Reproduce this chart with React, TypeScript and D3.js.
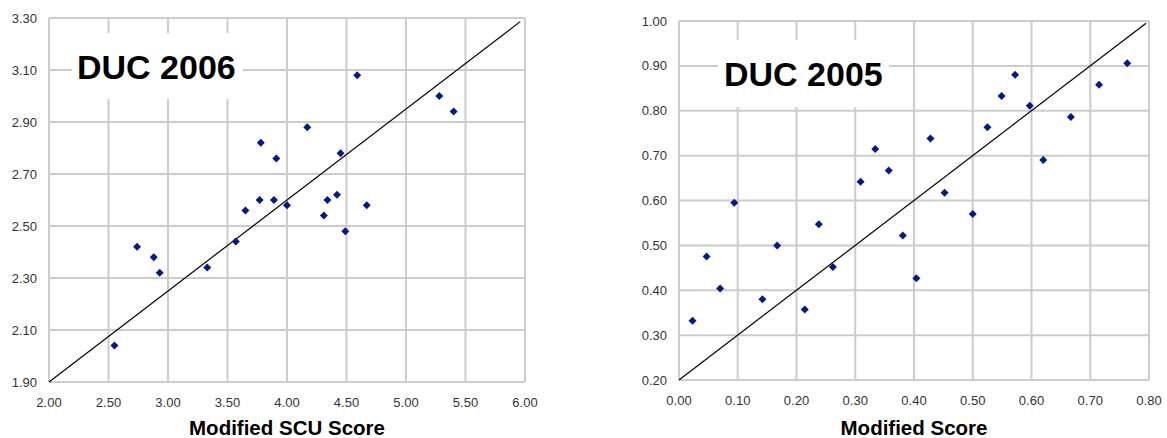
import React from 'react';
import * as d3 from 'd3';

// DUC 2006 — Modified SCU Score vs. score
const duc2006X = [2.55, 2.74, 2.88, 2.93, 3.33, 3.57, 3.65, 3.77, 3.89, 4.00, 3.78, 3.91, 4.17, 4.45, 4.59, 5.28, 5.40, 4.42, 4.34, 4.31, 4.49, 4.67];
const duc2006Y = [2.04, 2.42, 2.38, 2.32, 2.34, 2.44, 2.56, 2.60, 2.60, 2.58, 2.82, 2.76, 2.88, 2.78, 3.08, 3.00, 2.94, 2.62, 2.60, 2.54, 2.48, 2.58];
const duc2006Fit = [[2.0, 1.9], [5.96, 3.286]];
const duc2006XTicks = [2.0, 2.5, 3.0, 3.5, 4.0, 4.5, 5.0, 5.5, 6.0];
const duc2006YTicks = [1.9, 2.1, 2.3, 2.5, 2.7, 2.9, 3.1, 3.3];

// DUC 2005 — Modified Score vs. score
const duc2005X = [0.023, 0.047, 0.070, 0.094, 0.142, 0.167, 0.214, 0.238, 0.262, 0.309, 0.334, 0.357, 0.381, 0.404, 0.500, 0.428, 0.452, 0.525, 0.549, 0.572, 0.597, 0.620, 0.667, 0.715, 0.763];
const duc2005Y = [0.332, 0.475, 0.404, 0.595, 0.380, 0.500, 0.357, 0.547, 0.452, 0.642, 0.715, 0.667, 0.522, 0.427, 0.570, 0.738, 0.617, 0.763, 0.833, 0.880, 0.811, 0.690, 0.786, 0.858, 0.906];
const duc2005Fit = [[0.0, 0.2], [0.795, 0.995]];
const duc2005XTicks = [0, 0.1, 0.2, 0.3, 0.4, 0.5, 0.6, 0.7, 0.8];
const duc2005YTicks = [0.2, 0.3, 0.4, 0.5, 0.6, 0.7, 0.8, 0.9, 1.0];

const GRID = '#cccccc';
const MARKER = '#001a8c';
const FONT = '"Liberation Sans", Arial, sans-serif';

type ChartProps = {
  xs: number[];
  ys: number[];
  fit: number[][];
  xTicks: number[];
  yTicks: number[];
  box: { left: number; top: number; right: number; bottom: number };
  title: string;
  titleBox: { x: number; y: number; w: number; h: number };
  titlePos: { x: number; y: number };
  xLabel: string;
};

function Scatter({ xs, ys, fit, xTicks, yTicks, box, title, titleBox, titlePos, xLabel }: ChartProps) {
  const x = d3.scaleLinear().domain([xTicks[0], xTicks[xTicks.length - 1]]).range([box.left, box.right]);
  const y = d3.scaleLinear().domain([yTicks[0], yTicks[yTicks.length - 1]]).range([box.bottom, box.top]);
  const diamond = d3.symbol(d3.symbolSquare, 32)();
  const fitLine = d3.line<number[]>().x(d => x(d[0])).y(d => y(d[1]))(fit);

  return (
    <g>
      {xTicks.map((t, i) => (
        <g key={'x' + i}>
          <line x1={x(t)} x2={x(t)} y1={box.top} y2={box.bottom} stroke={GRID} strokeWidth={2} />
          <text x={x(t)} y={box.bottom + 25} textAnchor="middle" fontSize={13} fill="#333" fontFamily={FONT}>
            {d3.format('.2f')(t)}
          </text>
        </g>
      ))}
      {yTicks.map((t, i) => (
        <g key={'y' + i}>
          <line x1={box.left} x2={box.right} y1={y(t)} y2={y(t)} stroke={GRID} strokeWidth={2} />
          <text x={box.left - 12} y={y(t)} dy="0.35em" textAnchor="end" fontSize={13} fill="#333" fontFamily={FONT}>
            {d3.format('.2f')(t)}
          </text>
        </g>
      ))}
      <rect x={titleBox.x} y={titleBox.y} width={titleBox.w} height={titleBox.h} fill="white" />
      <text x={titlePos.x} y={titlePos.y} fontSize={34} fontWeight="bold" fill="#000" fontFamily={FONT}>
        {title}
      </text>
      <path d={fitLine || ''} fill="none" stroke="#000" strokeWidth={1.2} />
      {xs.map((v, i) => (
        <path key={'p' + i} d={diamond || ''} transform={`translate(${x(v)},${y(ys[i])}) rotate(45)`} fill={MARKER} />
      ))}
      <text
        x={(box.left + box.right) / 2}
        y={435}
        textAnchor="middle"
        fontSize={20.5}
        fontWeight="bold"
        fill="#000"
        fontFamily={FONT}
      >
        {xLabel}
      </text>
    </g>
  );
}

export default function App() {
  return (
    <div style={{ position: 'absolute', left: 0, top: 0 }}>
      <svg width={1167} height={438} style={{ display: 'block', background: 'white' }}>
        <Scatter
          xs={duc2006X}
          ys={duc2006Y}
          fit={duc2006Fit}
          xTicks={duc2006XTicks}
          yTicks={duc2006YTicks}
          box={{ left: 49, top: 18, right: 525, bottom: 382 }}
          title="DUC 2006"
          titleBox={{ x: 72, y: 33, w: 171, h: 66 }}
          titlePos={{ x: 77, y: 79 }}
          xLabel="Modified SCU Score"
        />
        <Scatter
          xs={duc2005X}
          ys={duc2005Y}
          fit={duc2005Fit}
          xTicks={duc2005XTicks}
          yTicks={duc2005YTicks}
          box={{ left: 679, top: 21, right: 1149, bottom: 380 }}
          title="DUC 2005"
          titleBox={{ x: 718, y: 40, w: 171, h: 67 }}
          titlePos={{ x: 724, y: 86 }}
          xLabel="Modified Score"
        />
      </svg>
    </div>
  );
}
